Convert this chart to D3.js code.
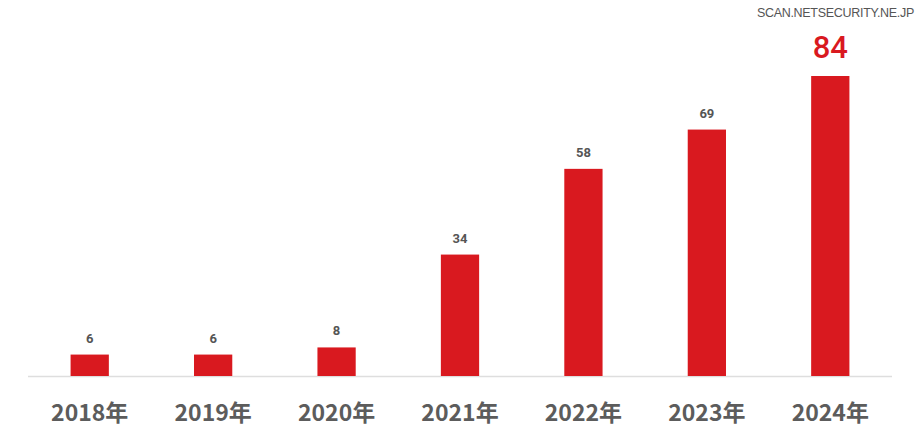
<!DOCTYPE html>
<html><head><meta charset="utf-8">
<script src="https://cdn.jsdelivr.net/npm/d3@7/dist/d3.min.js"></script>
<style>body{margin:0;background:#fff}svg{display:block}</style>
</head><body>
<svg id="c" width="921" height="427"></svg>
<script>
const categories = ["2018年","2019年","2020年","2021年","2022年","2023年","2024年"];
const values = [6, 6, 8, 34, 58, 69, 84];
const watermark = "SCAN.NETSECURITY.NE.JP";

const svg = d3.select("#c");
const baseY = 376;
const x = d3.scaleBand().domain(categories).range([28, 892]).paddingInner(0.69).paddingOuter(0.345);
const y = d3.scaleLinear().domain([0, 84]).range([baseY, 76]);
const red = "#d9191f";

svg.append("line").attr("x1", 28).attr("x2", 892).attr("y1", baseY + 0.5).attr("y2", baseY + 0.5)
  .attr("stroke", "#dedede").attr("stroke-width", 1.5);

svg.selectAll("rect.bar").data(values).join("rect").attr("class", "bar")
  .attr("x", (d, i) => x(categories[i]))
  .attr("width", x.bandwidth())
  .attr("y", d => y(d))
  .attr("height", d => baseY - y(d))
  .attr("fill", red);

svg.selectAll("text.val").data(values).join("text").attr("class", "val")
  .attr("x", (d, i) => x(categories[i]) + x.bandwidth() / 2)
  .attr("y", (d, i) => i === values.length - 1 ? y(d) - 18 : y(d) - 12)
  .attr("text-anchor", "middle")
  .attr("font-family", "Roboto, 'Noto Sans', sans-serif")
  .attr("font-weight", (d, i) => i === values.length - 1 ? 500 : "bold")
  .attr("font-size", (d, i) => i === values.length - 1 ? 31 : 13)
  .attr("fill", (d, i) => i === values.length - 1 ? red : "#555")
  .text(d => d);

const ax = svg.append("g").attr("transform", `translate(0,${baseY})`)
  .call(d3.axisBottom(x).tickSize(0).tickPadding(0));
ax.select(".domain").remove();
ax.selectAll("text")
  .attr("y", 45)
  .attr("dy", 0)
  .attr("font-family", "'Noto Sans CJK JP', sans-serif")
  .attr("font-weight", "bold")
  .attr("font-size", 23)
  .attr("fill", "#5c5c5c");

svg.append("text").attr("x", 914).attr("y", 17).attr("text-anchor", "end")
  .attr("font-family", "'Liberation Sans', Arial, sans-serif")
  .attr("font-size", 12.5).attr("letter-spacing", -0.3).attr("fill", "#555")
  .text(watermark);
</script>
</body></html>
